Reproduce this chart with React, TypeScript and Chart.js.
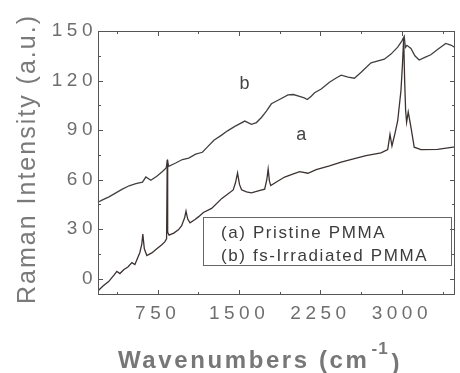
import React, { useEffect, useRef } from "react";
import { Chart, registerables } from "chart.js";

Chart.register(...registerables);

// (a) Pristine PMMA
const pristineWavenumbers = [206, 246, 298, 347, 374, 402, 439, 476, 512, 540, 586, 604, 613, 627, 650, 696, 742, 788, 815, 832, 838, 842, 855, 898, 941, 971, 999, 1011, 1027, 1048, 1094, 1128, 1171, 1247, 1339, 1446, 1467, 1486, 1504, 1523, 1568, 1614, 1669, 1736, 1756, 1768, 1780, 1792, 1844, 1920, 1982, 2058, 2135, 2211, 2333, 2441, 2563, 2670, 2808, 2870, 2891, 2909, 2937, 2962, 2992, 3006, 3017, 3026, 3035, 3044, 3059, 3084, 3114, 3176, 3329, 3490];
const pristineIntensity = [-7.1, -4.5, -1.9, 2, 4.3, 3, 5.5, 7, 9.6, 8.5, 15.8, 21, 27, 18, 13.9, 15.5, 18, 20.5, 22.2, 24, 72, 28, 26.3, 27.5, 29.5, 32, 37, 40.8, 36, 33.8, 35.8, 37.5, 40, 42.5, 48.4, 53.7, 58, 63.9, 57, 53.8, 52.5, 51.9, 53, 54.1, 60, 66.3, 59, 56.3, 58.5, 61.5, 63, 64.8, 63.8, 66, 68.2, 70.5, 72.7, 74.5, 76.1, 78.2, 87.3, 80.3, 88, 95.6, 113.9, 130, 145.4, 120, 101.8, 94.7, 100.9, 91.7, 79.6, 78.1, 78.3, 79.8];

// (b) fs-Irradiated PMMA
const irradiatedWavenumbers = [209, 237, 301, 365, 420, 487, 549, 610, 641, 687, 742, 794, 828, 840, 852, 916, 978, 1036, 1100, 1162, 1207, 1268, 1339, 1394, 1461, 1553, 1614, 1660, 1706, 1752, 1798, 1872, 1951, 2000, 2058, 2101, 2129, 2165, 2196, 2257, 2333, 2395, 2441, 2505, 2563, 2625, 2716, 2839, 2900, 2962, 3001, 3022, 3033, 3047, 3084, 3120, 3160, 3212, 3267, 3332, 3405, 3451, 3490];
const irradiatedIntensity = [46.5, 47.5, 49.5, 51.9, 54, 56.2, 57.5, 58.4, 61.5, 59.5, 62, 64.8, 67, 71, 68, 70, 72.1, 73, 75.4, 76.5, 79.6, 83.8, 86.9, 89.5, 92.2, 95.4, 93.4, 94.5, 97.6, 101.5, 105.9, 108.5, 111.3, 111.5, 110.4, 109.5, 108.5, 110.5, 112.6, 114.8, 118.9, 121.5, 123.2, 122, 121.4, 125, 130.7, 132.9, 136, 140.2, 144, 146.8, 140, 141.3, 139.4, 135, 132.4, 134, 135.6, 139, 142.5, 141.5, 140];

const xMajorTicks = [750, 1500, 2250, 3000];
const xMinorTicks = [375, 1125, 1875, 2625, 3375];
const yMajorTicks = [0, 30, 60, 90, 120, 150];
const yMinorTicks = [15, 45, 75, 105, 135];

const legendLabels = ["(a) Pristine PMMA", "(b) fs-Irradiated PMMA"];
const curveLabels = ["a", "b"];
const curveLabelX = [2073, 1550];
const curveLabelY = [87, 117.6];

const xTitle = "Wavenumbers (cm";
const xTitleSup = "-1";
const xTitleEnd = ")";
const yTitle = "Raman Intensity (a.u.)";

const toPoints = (xs: number[], ys: number[]) => xs.map((x, i) => ({ x, y: ys[i] }));

const decorPlugin = {
  id: "decor",
  beforeLayout(chart: any) {
    chart.ctx.letterSpacing = "4.5px";
  },
  beforeDraw(chart: any) {
    chart.ctx.letterSpacing = "4.5px";
  },
  afterDraw(chart: any) {
    const ctx = chart.ctx as CanvasRenderingContext2D;
    const { left, right, top, bottom } = chart.chartArea;
    const xs = chart.scales.x;
    const ys = chart.scales.y;
    ctx.save();
    // frame
    ctx.strokeStyle = "#555";
    ctx.lineWidth = 1;
    ctx.strokeRect(left + 0.5, top + 0.5, right - left - 1, bottom - top - 1);
    // inward ticks
    ctx.beginPath();
    const tickX = (v: number, len: number) => {
      const px = Math.round(xs.getPixelForValue(v)) + 0.5;
      ctx.moveTo(px, bottom);
      ctx.lineTo(px, bottom - len);
      ctx.moveTo(px, top);
      ctx.lineTo(px, top + len);
    };
    const tickY = (v: number, len: number) => {
      const py = Math.round(ys.getPixelForValue(v)) + 0.5;
      ctx.moveTo(left, py);
      ctx.lineTo(left + len, py);
      ctx.moveTo(right, py);
      ctx.lineTo(right - len, py);
    };
    xMajorTicks.forEach((v) => tickX(v, 5));
    xMinorTicks.forEach((v) => tickX(v, 3));
    yMajorTicks.forEach((v) => tickY(v, 5));
    yMinorTicks.forEach((v) => tickY(v, 3));
    ctx.stroke();

    // legend box
    const bx = left + 105;
    const by = bottom - 78;
    const bw = right - 4 - bx;
    const bh = 48;
    ctx.strokeStyle = "#666";
    ctx.strokeRect(bx + 0.5, by + 0.5, bw, bh);
    ctx.fillStyle = "#3c3c3c";
    ctx.font = "17px 'Liberation Sans', Arial, sans-serif";
    (ctx as any).letterSpacing = "1.6px";
    ctx.textAlign = "left";
    ctx.textBaseline = "alphabetic";
    legendLabels.forEach((t, i) => {
      ctx.fillText(t, bx + 18, by + 21 + i * 23);
    });

    // curve labels
    ctx.font = "18px 'Liberation Sans', Arial, sans-serif";
    (ctx as any).letterSpacing = "0px";
    ctx.textAlign = "center";
    ctx.textBaseline = "middle";
    ctx.fillStyle = "#444";
    curveLabels.forEach((t, i) => {
      ctx.fillText(t, xs.getPixelForValue(curveLabelX[i]), ys.getPixelForValue(curveLabelY[i]));
    });

    // y title
    ctx.save();
    ctx.fillStyle = "#7a7a7a";
    ctx.font = "25px 'Liberation Sans', Arial, sans-serif";
    (ctx as any).letterSpacing = "2px";
    ctx.translate(35, (top + bottom) / 2 - 4);
    ctx.rotate(-Math.PI / 2);
    ctx.textAlign = "center";
    ctx.textBaseline = "alphabetic";
    ctx.fillText(yTitle, 0, 0);
    ctx.restore();

    // x title with superscript
    ctx.fillStyle = "#777";
    ctx.textAlign = "left";
    ctx.textBaseline = "alphabetic";
    ctx.font = "bold 24px 'Liberation Sans', Arial, sans-serif";
    (ctx as any).letterSpacing = "2.6px";
    const baseY = 368;
    let cx = 118;
    ctx.fillText(xTitle, cx, baseY);
    cx += ctx.measureText(xTitle).width + 2;
    ctx.font = "bold 17px 'Liberation Sans', Arial, sans-serif";
    (ctx as any).letterSpacing = "1px";
    ctx.fillText(xTitleSup, cx, baseY - 14);
    cx += ctx.measureText(xTitleSup).width + 3;
    ctx.font = "bold 24px 'Liberation Sans', Arial, sans-serif";
    ctx.fillText(xTitleEnd, cx, baseY + 3);
    ctx.restore();
  },
};

export default function App() {
  const ref = useRef<HTMLCanvasElement | null>(null);
  useEffect(() => {
    document.body.style.margin = "0";
    const canvas = ref.current!;
    const tickFont = { family: "'Liberation Sans', Arial, sans-serif", size: 19 };
    const chart = new Chart(canvas, {
      type: "line",
      data: {
        datasets: [
          {
            label: legendLabels[0],
            data: toPoints(pristineWavenumbers, pristineIntensity),
            borderColor: "#3d3232",
            borderWidth: 1.3,
            pointRadius: 0,
            tension: 0,
          },
          {
            label: legendLabels[1],
            data: toPoints(irradiatedWavenumbers, irradiatedIntensity),
            borderColor: "#444040",
            borderWidth: 1.3,
            pointRadius: 0,
            tension: 0,
          },
        ],
      },
      options: {
        animation: false,
        responsive: false,
        maintainAspectRatio: false,
        layout: { padding: { top: 31, right: 5, left: 0, bottom: 0 } },
        plugins: { legend: { display: false }, tooltip: { enabled: false } },
        scales: {
          x: {
            type: "linear",
            min: 200,
            max: 3490,
            grid: { display: false, drawTicks: false },
            border: { display: false },
            ticks: {
              font: tickFont,
              color: "#6e6e6e",
              padding: 7,
              maxRotation: 0,
              autoSkip: false,
              callback: (v: any) => String(v),
            },
            afterBuildTicks: (s: any) => {
              s.ticks = xMajorTicks.map((v) => ({ value: v }));
            },
            afterFit: (s: any) => {
              s.height = 78;
            },
          },
          y: {
            type: "linear",
            min: -10,
            max: 150,
            grid: { display: false, drawTicks: false },
            border: { display: false },
            ticks: { font: tickFont, color: "#6e6e6e", padding: 1, callback: (v: any) => String(v) },
            afterBuildTicks: (s: any) => {
              s.ticks = yMajorTicks.map((v) => ({ value: v }));
            },
            afterFit: (s: any) => {
              s.width = 98;
            },
          },
        },
      },
      plugins: [decorPlugin],
    });
    return () => chart.destroy();
  }, []);
  return (
    <div style={{ width: 460, height: 373 }}>
      <canvas ref={ref} width={460} height={373} style={{ display: "block" }} />
    </div>
  );
}
